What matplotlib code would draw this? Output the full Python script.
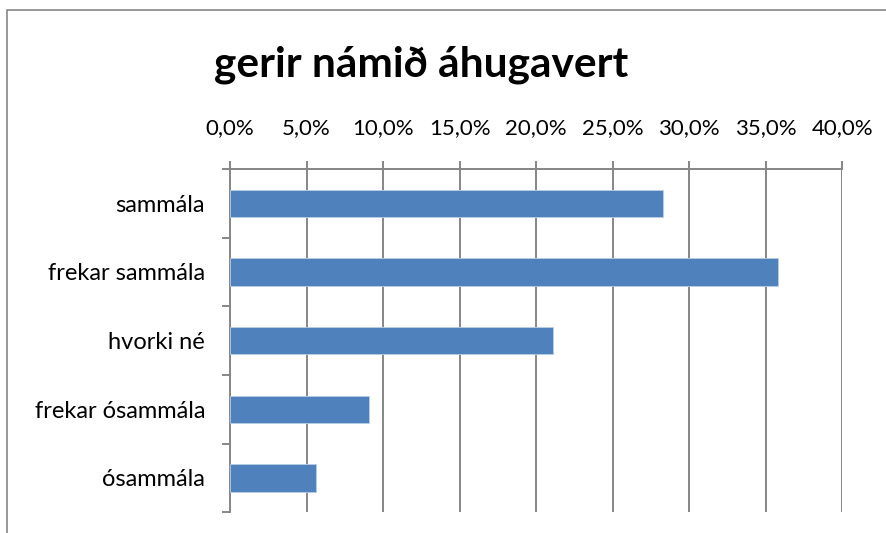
import matplotlib
matplotlib.use("Agg")
import matplotlib.pyplot as plt
from matplotlib.patches import Rectangle
from matplotlib.ticker import MultipleLocator, FuncFormatter

categories = ["sammála", "frekar sammála", "hvorki né", "frekar ósammála", "ósammála"]
shares = [28.3, 35.8, 21.1, 9.1, 5.6]
title = "gerir námið áhugavert"

W, H = 886, 533
plt.rcParams['font.family'] = ['Lato', 'DejaVu Sans']
fig = plt.figure(figsize=(W / 100, H / 100), dpi=100)

# chart frame like the excel chart area
fig.patches.append(Rectangle((7 / W, -0.1), 2, (H - 10) / H + 0.1, transform=fig.transFigure,
                             fill=False, edgecolor="#868686", linewidth=1.2))

ax = fig.add_axes([230 / W, (H - 512.3) / H, (842.3 - 230) / W, (512.3 - 169) / H])

grey = "#868686"
ypos = list(range(len(categories)))
ax.barh(ypos, shares, height=0.4, color="#4F81BD", edgecolor="#B9CDE5", linewidth=0.6, zorder=3)

ax.set_xlim(0, 40)
ax.set_ylim(len(categories) - 0.5, -0.5)
ax.xaxis.set_major_locator(MultipleLocator(5))
ax.xaxis.set_major_formatter(FuncFormatter(lambda v, p: f"{v:.1f}%".replace(".", ",")))
ax.xaxis.tick_top()
ax.grid(axis="x", color=grey, linewidth=1.4, zorder=0)

ax.set_yticks(ypos)
ax.set_yticklabels(categories)
ax.set_yticks([y - 0.5 for y in range(len(categories) + 1)], minor=True)
ax.tick_params(axis="y", which="major", length=0, pad=18, labelsize=17)
ax.tick_params(axis="y", which="minor", length=6, width=1.4, color=grey)
ax.tick_params(axis="x", which="major", length=6, width=1.4, color=grey, pad=16, labelsize=16)

for s in ["right", "bottom"]:
    ax.spines[s].set_visible(False)
for s in ["top", "left"]:
    ax.spines[s].set_color(grey)
    ax.spines[s].set_linewidth(1.4)

fig.text(421 / W, (H - 65) / H, title, ha="center", va="center", fontsize=30.5, fontweight="bold")

fig.savefig("out.png", dpi=100)
